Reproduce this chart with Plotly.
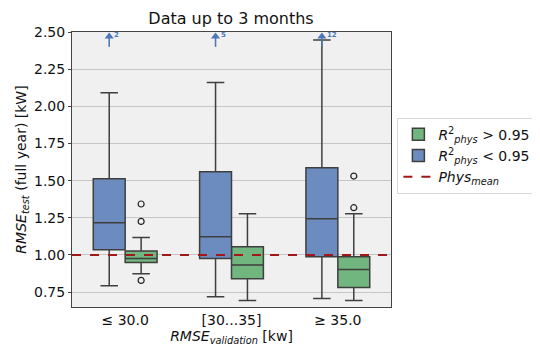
import plotly.graph_objects as go

# category labels on the x axis
categories = ['≤ 30.0', '[30...35]', '≥ 35.0']

# R2_phys < 0.95 (blue) box statistics per category
low_q1 = [1.035, 0.977, 0.988]
low_median = [1.217, 1.122, 1.244]
low_q3 = [1.513, 1.560, 1.587]
low_lower = [0.793, 0.719, 0.708]
low_upper = [2.092, 2.161, 2.446]
low_over_count = [2, 5, 12]  # outliers above the plotted range

# R2_phys > 0.95 (green) box statistics per category
high_q1 = [0.950, 0.840, 0.782]
high_median = [0.977, 0.932, 0.903]
high_q3 = [1.026, 1.055, 0.988]
high_lower = [0.874, 0.694, 0.694]
high_upper = [1.118, 1.277, 1.277]
high_outliers = [[1.343, 1.226, 0.829], [], [1.531, 1.318]]

phys_mean = 1.0

BLUE = '#6c8cbf'
GREEN = '#72b67f'
ARROW = '#4c78b8'
EDGE = '#3f3f3f'
FONT = 'DejaVu Sans'

idx = list(range(len(categories)))
off = 0.15
blue_x = [i - off for i in idx]
green_x = [i + off for i in idx]

fig = go.Figure()

box_style = dict(width=0.3, whiskerwidth=0.55, boxpoints=False,
                 line=dict(color=EDGE, width=1.5))

fig.add_trace(go.Box(
    x=green_x, q1=high_q1, median=high_median, q3=high_q3,
    lowerfence=high_lower, upperfence=high_upper,
    fillcolor=GREEN, name='<i>R</i><sup>2</sup><sub><i>phys</i></sub> > 0.95',
    **box_style
))
fig.add_trace(go.Box(
    x=blue_x, q1=low_q1, median=low_median, q3=low_q3,
    lowerfence=low_lower, upperfence=low_upper,
    fillcolor=BLUE, name='<i>R</i><sup>2</sup><sub><i>phys</i></sub> < 0.95',
    **box_style
))

# outliers of the green boxes
ox, oy = [], []
for i, pts in enumerate(high_outliers):
    for p in pts:
        ox.append(green_x[i])
        oy.append(p)
fig.add_trace(go.Scatter(
    x=ox, y=oy, mode='markers', showlegend=False, hoverinfo='skip',
    marker=dict(symbol='circle-open', size=6, color='#222222', line=dict(width=1.2))
))

fig.add_trace(go.Scatter(
    x=[-0.5, len(categories) - 0.5], y=[phys_mean, phys_mean], mode='lines',
    line=dict(color='#a01818', width=2, dash='dash'),
    name='<i>Phys</i><sub><i>mean</i></sub>'
))

# arrows for outliers above the axis range: shaft + head
sx, sy = [], []
for bx in blue_x:
    sx += [bx, bx, None]
    sy += [2.40, 2.47, None]
fig.add_trace(go.Scatter(x=sx, y=sy, mode='lines', showlegend=False, hoverinfo='skip',
                         line=dict(color=ARROW, width=1.6)))
fig.add_trace(go.Scatter(x=blue_x, y=[2.47] * len(blue_x), mode='markers',
                         showlegend=False, hoverinfo='skip',
                         marker=dict(symbol='triangle-up', size=8, color=ARROW)))
for i, n in enumerate(low_over_count):
    fig.add_annotation(x=blue_x[i], y=2.48, text=f'<b>{n}</b>', showarrow=False,
                       xanchor='left', xshift=3, font=dict(size=7, color=ARROW))

fig.update_layout(
    width=540, height=360,
    margin=dict(l=61, r=155, t=24, b=61),
    paper_bgcolor='white', plot_bgcolor='#f0f0f0',
    font=dict(family=FONT, size=14, color='#111111'),
    boxmode='overlay',
    title=dict(text='Data up to 3 months', x=223 / 540, xanchor='center',
               y=1 - 10 / 360, yanchor='middle', font=dict(size=16)),
    legend=dict(x=1.02, xanchor='left', y=0.55, yanchor='middle',
                bgcolor='white', bordercolor='#d8d8d8', borderwidth=1,
                font=dict(size=14), tracegroupgap=2),
)
fig.update_xaxes(
    range=[-0.5, len(categories) - 0.5], tickvals=idx, ticktext=categories,
    showgrid=False, zeroline=False, showline=True, linecolor='#444444', mirror=True,
    ticks='', ticklen=4,
    title=dict(text='<i>RMSE</i><sub><i>validation</i></sub> [kw]', standoff=2, font=dict(size=14))
)
fig.update_yaxes(
    range=[0.65, 2.5], tickvals=[0.75, 1.0, 1.25, 1.5, 1.75, 2.0, 2.25, 2.5],
    ticktext=['0.75', '1.00', '1.25', '1.50', '1.75', '2.00', '2.25', '2.50'],
    showgrid=True, gridcolor='#c6c6c6', gridwidth=1, zeroline=False,
    showline=True, linecolor='#444444', mirror=True, ticks='outside', ticklen=3,
    tickcolor='#444444',
    title=dict(text='<i>RMSE</i><sub><i>test</i></sub> (full year) [kW]', standoff=4, font=dict(size=14))
)

fig.write_html('out.html')
